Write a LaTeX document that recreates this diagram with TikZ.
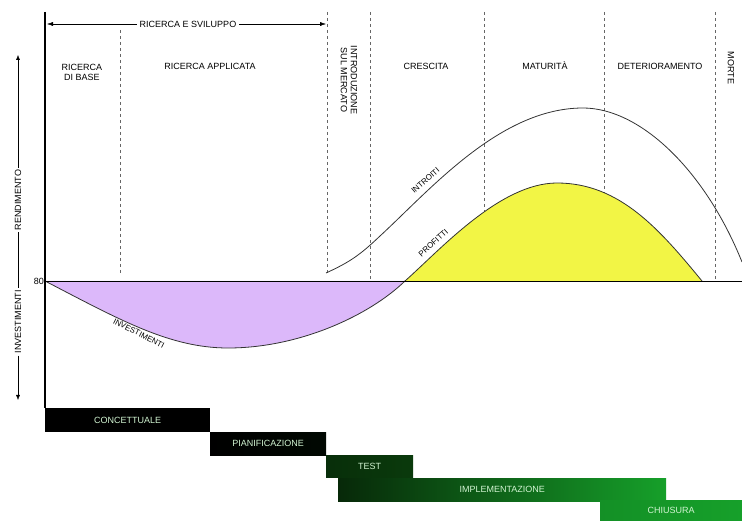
\documentclass[tikz,border=0pt]{standalone}
\usepackage{fontspec}
\setmainfont{Liberation Sans}
\usepackage{xcolor}
\usetikzlibrary{arrows.meta,positioning,calc}

\definecolor{lilla}{HTML}{DCB8FA}
\definecolor{giallo}{HTML}{F2F545}
\definecolor{verdescuro}{HTML}{0A3A0C}
\definecolor{verde}{HTML}{16A02A}
\definecolor{testoverde}{HTML}{D2F5D2}

\begin{document}
\begin{tikzpicture}[x=1pt,y=-1pt,
    lab/.style={font=\fontsize{9}{10}\selectfont, align=center, inner sep=1pt},
    sidelab/.style={lab, rotate=90, fill=white, inner sep=2pt},
    curvelab/.style={lab, font=\fontsize{8}{9}\selectfont, inner sep=4pt},
    phase/.style={dashed, gray!80!black, thin},
    curva/.style={thick, black!80},
    bar/.style={anchor=north west, inner sep=0pt, text=testoverde,
        font=\fontsize{9}{10}\selectfont}]
    \useasboundingbox (0,0) rectangle (742,521);

    % phase separators
    \draw[phase] (120,30) -- (120,275);
    \foreach \x/\y in {327/275, 370/281, 484/281, 604/281, 715/281}
        \draw[phase] (\x,12) -- (\x,\y);

    % areas
    \fill[lilla] (45,281) .. controls (120,320) and (170,348) .. (228,348)
        .. controls (300,348) and (370,315) .. (405,281) -- cycle;
    \fill[giallo] (405,281) .. controls (440,250) and (500,183) .. (557,183)
        .. controls (620,183) and (660,230) .. (702,281) -- cycle;
    \draw[curva] (45,281) .. controls (120,320) and (170,348) .. (228,348)
        .. controls (300,348) and (370,315) .. (405,281);
    \draw[curva] (405,281) .. controls (440,250) and (500,183) .. (557,183)
        .. controls (620,183) and (660,230) .. (702,281);
    \draw[curva] (326,273) .. controls (350,262) and (360,255) .. (380,236)
        .. controls (430,190) and (500,108) .. (583,108)
        .. controls (640,108) and (705,170) .. (742,262);

    % axes
    \draw[thick] (45,281) -- (742,281);
    \draw[line width=1.6pt] (45,12) -- (45,408);
    \node[lab, left] (zero) at (45,281) {80};

    % y labels
    \coordinate (ytop) at (18,55);
    \coordinate (ybot) at (18,400);
    \node[sidelab] (rend) at (18,200) {RENDIMENTO};
    \node[sidelab] (inv) at (18,322) {INVESTIMENTI};
    \draw[-{Latex[length=5pt,width=4pt]}] (rend) -- (ytop);
    \draw[-{Latex[length=5pt,width=4pt]}] (inv) -- (ybot);
    \draw (rend) -- (inv);

    % R&S arrow
    \coordinate (rsL) at (47,24);
    \coordinate (rsR) at (326,24);
    \node[lab, fill=white, inner sep=3pt] (rs) at (188,24) {RICERCA E SVILUPPO};
    \draw[-{Latex[length=6pt,width=4pt]}] (rs) -- (rsL);
    \draw[-{Latex[length=6pt,width=4pt]}] (rs) -- (rsR);

    % phases
    \node[lab] (base) at (82,72) {RICERCA\\DI BASE};
    \node[lab] (appl) at (210,66) {RICERCA APPLICATA};
    \node[lab, rotate=-90] (intro) at (349,80) {INTRODUZIONE\\SUL MERCATO};
    \node[lab] (cresc) at (426,66) {CRESCITA};
    \node[lab] (matur) at (545,66) {MATURIT\`A};
    \node[lab] (deter) at (660,66) {DETERIORAMENTO};
    \node[lab, rotate=-90] (morte) at (731,68) {MORTE};

    % curve labels
    \node[curvelab, rotate=41, anchor=south] (introiti) at (430,186) {INTROITI};
    \node[curvelab, rotate=42, anchor=south] (profitti) at (438,248) {PROFITTI};
    \node[curvelab, rotate=-27, anchor=north] (invest) at (142,327) {INVESTIMENTI};

    % project bars
    \node[bar, fill=black, minimum width=165pt, minimum height=24pt] (conc) at (45,408) {CONCETTUALE};
    \node[bar, left color=black, right color=black!85!verdescuro, minimum width=116pt, minimum height=23pt] (pian) at (210,432) {PIANIFICAZIONE};
    \node[bar, left color=verdescuro!80!black, right color=verdescuro, minimum width=87pt, minimum height=22pt] (test) at (326,455) {TEST};
    \node[bar, left color=verdescuro!70!black, right color=verde, minimum width=328pt, minimum height=23pt] (impl) at (338,478) {IMPLEMENTAZIONE};
    \node[bar, left color=verde!90!black, right color=verde, minimum width=142pt, minimum height=21pt] (chius) at (600,500) {CHIUSURA};
\end{tikzpicture}
\end{document}
